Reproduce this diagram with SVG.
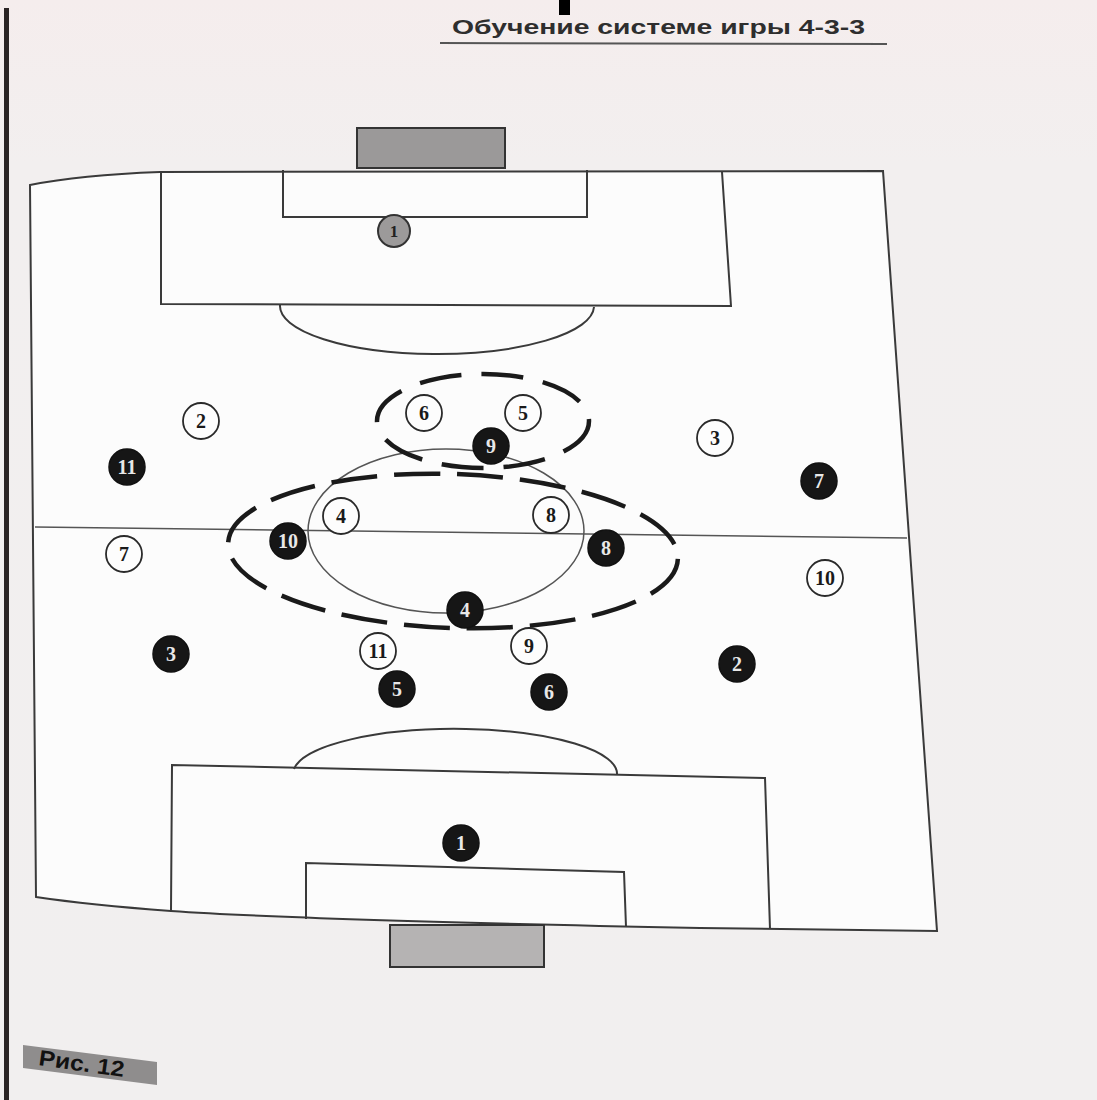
<svg xmlns="http://www.w3.org/2000/svg" width="1097" height="1100" viewBox="0 0 1097 1100">
<defs>
<style>
.line{fill:none;stroke:#3a3a3a;stroke-width:2}
.thin{fill:none;stroke:#555;stroke-width:1.5}
.dash1{fill:none;stroke:#1a1a1a;stroke-width:4.5;stroke-dasharray:46 17}
.dash2{fill:none;stroke:#1a1a1a;stroke-width:4.5;stroke-dasharray:42 20}
.wp circle{fill:#fdfdfd;stroke:#2a2a2a;stroke-width:1.8}
.wp text{fill:#1a1a1a}
.bp circle{fill:#161616;stroke:#111;stroke-width:1.5}
.bp text{fill:#e8e8e8}
.num{font-family:"Liberation Serif","DejaVu Serif",serif;font-weight:bold;font-size:20px;text-anchor:middle;dominant-baseline:central}
.goal{fill:#9b9999;stroke:#333;stroke-width:2}
</style>
<linearGradient id="page" x1="0" y1="0" x2="0" y2="1">
<stop offset="0" stop-color="#f5eded"/>
<stop offset="0.15" stop-color="#f2efef"/>
<stop offset="1" stop-color="#f1efef"/>
</linearGradient>
</defs>
<rect x="0" y="0" width="1097" height="1100" fill="url(#page)"/>
<rect x="4" y="8" width="5" height="1092" fill="#2a2424"/>
<rect x="559" y="0" width="11" height="15" fill="#000"/>
<g id="title">
<text x="452" y="34" font-family="'Liberation Sans','DejaVu Sans',sans-serif" font-weight="bold" font-size="21" fill="#2e2e2e" textLength="413" lengthAdjust="spacingAndGlyphs">Обучение системе игры 4-3-3</text>
<line x1="440" y1="43" x2="887" y2="44" stroke="#555" stroke-width="2"/>
</g>
<g id="field">
<path d="M30,185 Q80,175 160,172 L883,171 L937,931 L700,928 Q300,920 171,911 Q90,905 36,897 Z" fill="#fcfcfc" stroke="#3a3a3a" stroke-width="2"/>
<rect class="goal" x="357" y="128" width="148" height="40"/>
<path class="line" d="M161,172 L161,304 L731,306 L722,172"/>
<path class="line" d="M283,170 L283,217 L587,217 L587,170"/>
<path class="line" d="M280,305 A157 48 0 0 0 594,307"/>
<line class="thin" x1="35" y1="527" x2="907" y2="538"/>
<ellipse class="thin" cx="446" cy="531" rx="138" ry="82"/>
<path class="line" d="M171,911 L172,765 L765,778 L770,929"/>
<path class="line" d="M306,919 L306,863 L624,872 L626,927"/>
<path class="line" d="M294,769 A162 45 0 0 1 617,775"/>
<rect x="390" y="925" width="154" height="42" fill="#b5b3b3" stroke="#333" stroke-width="2"/>
</g>
<g id="connectors">
<ellipse id="zone-large" class="dash1" cx="453" cy="551" rx="225" ry="77" transform="rotate(2 453 551)"/>
<ellipse id="zone-small" class="dash2" cx="483" cy="421" rx="106" ry="47"/>
</g>
<g id="gk-top"><circle cx="394" cy="231" r="16" fill="#9c9a9a" stroke="#333" stroke-width="2"/><text class="num" x="394" y="231" fill="#222" style="font-size:17px">1</text></g>
<g id="w2" class="wp"><circle cx="201" cy="421" r="18"/><text class="num" x="201" y="421">2</text></g>
<g id="w6" class="wp"><circle cx="424" cy="413" r="18"/><text class="num" x="424" y="413">6</text></g>
<g id="w5" class="wp"><circle cx="523" cy="413" r="18"/><text class="num" x="523" y="413">5</text></g>
<g id="w3" class="wp"><circle cx="715" cy="438" r="18"/><text class="num" x="715" y="438">3</text></g>
<g id="w4" class="wp"><circle cx="341" cy="516" r="18"/><text class="num" x="341" y="516">4</text></g>
<g id="w8" class="wp"><circle cx="551" cy="515" r="18"/><text class="num" x="551" y="515">8</text></g>
<g id="w7" class="wp"><circle cx="124" cy="554" r="18"/><text class="num" x="124" y="554">7</text></g>
<g id="w10" class="wp"><circle cx="825" cy="578" r="18"/><text class="num" x="825" y="578">10</text></g>
<g id="w11" class="wp"><circle cx="378" cy="651" r="18"/><text class="num" x="378" y="651">11</text></g>
<g id="w9" class="wp"><circle cx="529" cy="646" r="18"/><text class="num" x="529" y="646">9</text></g>
<g id="b9" class="bp"><circle cx="491" cy="446" r="18"/><text class="num" x="491" y="446">9</text></g>
<g id="b11" class="bp"><circle cx="127" cy="467" r="18"/><text class="num" x="127" y="467">11</text></g>
<g id="b7" class="bp"><circle cx="819" cy="481" r="18"/><text class="num" x="819" y="481">7</text></g>
<g id="b10" class="bp"><circle cx="288" cy="541" r="18"/><text class="num" x="288" y="541">10</text></g>
<g id="b8" class="bp"><circle cx="606" cy="548" r="18"/><text class="num" x="606" y="548">8</text></g>
<g id="b4" class="bp"><circle cx="465" cy="610" r="18"/><text class="num" x="465" y="610">4</text></g>
<g id="b3" class="bp"><circle cx="171" cy="654" r="18"/><text class="num" x="171" y="654">3</text></g>
<g id="b2" class="bp"><circle cx="737" cy="664" r="18"/><text class="num" x="737" y="664">2</text></g>
<g id="b5" class="bp"><circle cx="397" cy="689" r="18"/><text class="num" x="397" y="689">5</text></g>
<g id="b6" class="bp"><circle cx="549" cy="692" r="18"/><text class="num" x="549" y="692">6</text></g>
<g id="b1" class="bp"><circle cx="461" cy="843" r="18"/><text class="num" x="461" y="843">1</text></g>
<g id="caption">
<polygon points="23,1045 157,1062 157,1085 23,1068" fill="#8f8d8d"/>
<text x="38" y="1065" transform="rotate(8 38 1065)" font-family="'Liberation Sans','DejaVu Sans',sans-serif" font-weight="bold" font-size="22" fill="#111" textLength="86" lengthAdjust="spacingAndGlyphs">Рис. 12</text>
</g>
</svg>
